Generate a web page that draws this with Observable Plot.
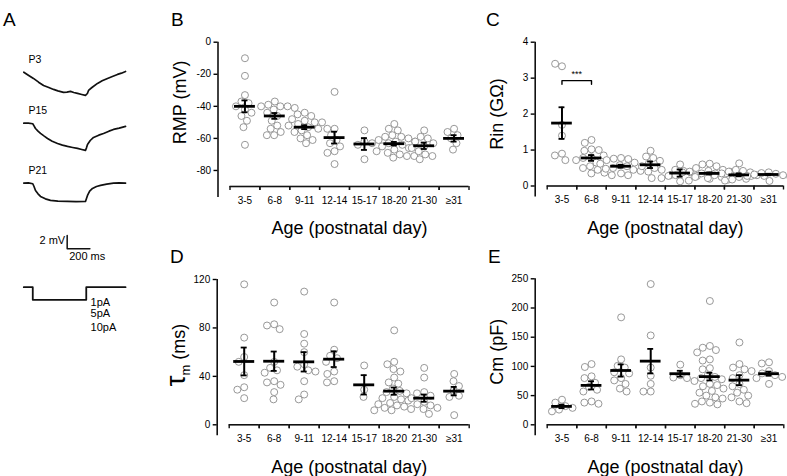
<!DOCTYPE html>
<html><head><meta charset="utf-8">
<script src="https://cdn.jsdelivr.net/npm/d3@7"></script>
<script src="https://cdn.jsdelivr.net/npm/@observablehq/plot@0.6"></script>
<style>
body{margin:0;background:#fff;}
#fig{position:relative;width:787px;height:476px;overflow:hidden;font-family:"Liberation Sans",Arial,Helvetica,sans-serif;}
.letter{position:absolute;font-size:19px;line-height:19px;color:#000;}
</style></head><body><div id="fig"></div>
<script>
// ---------- data ----------
const ageGroups = ["3-5","6-8","9-11","12-14","15-17","18-20","21-30","≥31"];
const xLabel = "Age (postnatal day)";

const rmpValues = [
  [-10,-21,-33,-37,-38,-40,-42,-44,-46,-49,-53,-64],
  [-37,-39,-40,-40,-40,-41,-42,-44,-46,-49,-52,-54,-56,-58,-58],
  [-44,-45,-46,-48,-49,-50,-50,-51,-52,-53,-54,-55,-56,-58,-60,-61,-63],
  [-31,-54,-54,-58,-61,-63,-65,-68,-69,-76],
  [-55,-62,-64,-73],
  [-51,-54,-55,-58,-59,-59,-60,-61,-62,-62,-63,-63,-64,-65,-66,-67,-68,-69,-70,-71,-71,-72],
  [-55,-59,-60,-62,-63,-65,-66,-68,-70,-71,-73],
  [-54,-56,-58,-60,-63,-67]
];
const rmpMean = [-40,-46,-53,-59.5,-63.5,-63.3,-64.6,-60];
const rmpSem = [3.7,1.8,1.2,3.7,3.7,1.1,2.0,2.0];

const rinValues = [
  [3.33,3.40,1.7,1.4,0.9,0.85,0.72],
  [1.28,1.2,1.02,1.0,0.98,0.85,0.8,0.78,0.72,0.65,0.55,0.5,0.45,0.37,0.35],
  [0.78,0.76,0.75,0.72,0.65,0.62,0.58,0.55,0.5,0.48,0.45,0.42,0.35,0.3,0.3],
  [0.98,0.82,0.78,0.7,0.62,0.55,0.5,0.45,0.4,0.22],
  [0.6,0.45,0.42,0.38,0.3,0.28,0.13],
  [0.62,0.6,0.55,0.5,0.45,0.42,0.4,0.4,0.38,0.35,0.35,0.32,0.3,0.3,0.28,0.28,0.25,0.25,0.22,0.2,0.18,0.15],
  [0.63,0.45,0.42,0.4,0.38,0.35,0.3,0.3,0.28,0.25,0.22,0.2,0.18,0.15,0.14],
  [0.38,0.36,0.34,0.32,0.3,0.28,0.26]
];
const rinMean = [1.75,0.78,0.55,0.59,0.36,0.35,0.31,0.32];
const rinSem = [0.44,0.08,0.04,0.09,0.1,0.03,0.04,0.02];

const tauValues = [
  [116,72,56,52,41,31,29,22],
  [101,83,82,79,52,47,45,43,36,35,33,27,21],
  [110,75,67,60,50,48,45,44,36,25,21],
  [101,62,57,55,52,44,42,36,35],
  [49,29,23],
  [78,52,50,46,44,39,35,34,30,28,27,26,23,22,21,20,18,17,16,15,14,13,12,12],
  [47,39,27,26,24,22,19,17,16,14,13,9],
  [42,36,32,28,24,23,8]
];
const tauMean = [52.3,52.5,52,54.2,33,27.8,22,27.8];
const tauSem = [11.5,8,8,6.5,8,3,3,3.5];

const cmValues = [
  [43,38,32,29,26,23],
  [104,99,83,80,72,65,60,57,40,38,36],
  [184,112,101,98,90,88,80,76,70,62,57],
  [241,153,98,84,70,57,57],
  [103,85,81,80],
  [212,135,132,128,124,112,110,97,95,85,82,80,78,75,70,68,66,62,58,55,50,47,45,40,38,36,35],
  [141,104,98,95,92,85,80,70,66,60,55,50,47,40,37],
  [107,105,92,88,85,82,80,70]
];
const cmMean = [31.5,67.5,93,109,87.5,82.5,76.5,87.5];
const cmSem = [3,7,10.5,21,5,6.5,8.5,3.5];

const rinSig = {from: "3-5", to: "6-8", y: 2.93, label: "***"};

// panel A traces (time in ms, voltage in mV relative to baseline)
const p3Time = [0,40,85,130,174,220,262,300,350,380,411,440,473,510,543,560,570,600,649,690,737,780,825,860,896];
const p3Volt = [0,-0.45,-0.94,-1.5,-1.99,-2.3,-2.59,-2.8,-3.04,-3.0,-2.89,-3.05,-3.19,-3.35,-3.49,-3.2,-2.74,-2.3,-1.69,-1.3,-0.94,-0.65,-0.34,-0.15,0.1];
const p15Time = [0,40,79,90,103,125,147,180,209,250,297,340,385,430,473,510,543,552,561,585,614,660,702,750,790,840,896];
const p15Volt = [0,0,-0.09,-0.4,-0.8,-1.2,-1.54,-1.95,-2.29,-2.7,-3.04,-3.3,-3.49,-3.65,-3.79,-3.95,-4.09,-3.7,-3.19,-2.6,-2.14,-1.8,-1.54,-1.2,-0.94,-0.75,-0.49];
const p21Time = [0,40,79,90,103,125,147,190,235,300,385,460,543,552,561,580,605,640,676,730,790,840,896];
const p21Volt = [0,0.05,-0.09,-0.5,-1.09,-1.6,-1.99,-2.35,-2.59,-2.7,-2.74,-2.76,-2.74,-2.3,-1.84,-1.2,-0.79,-0.5,-0.34,-0.15,0,0.05,0];
const traceNames = ["P3","P15","P21"];
const traceBase = [-10.75,-18.4,-27.4];
const stepTime = [0,79,79,550,550,896];
const stepLevel = [0,0,-1,-1,0,0];
const stepLabels = ["1pA","5pA","10pA"];
const scaleBarMs = 200, scaleBarMv = 2;

// ---------- helpers ----------
const FONT = "'Liberation Sans', Arial, Helvetica, sans-serif";
const fig = document.getElementById("fig");

function place(el, left, top) {
  el.style.position = "absolute";
  el.style.left = left + "px";
  el.style.top = top + "px";
  fig.appendChild(el);
  return el;
}

function scatterPanel(cfg) {
  const {values, means, sems, yDomain, yTicks, yLabel, width, height, mt, mr, mb, ml, sig, labelDy = 0} = cfg;
  const [y0, y1] = yDomain;
  const perPx = (y1 - y0) / (height - mt - mb);
  const rows = ageGroups.flatMap((g, i) => values[i].map(v => ({g, v})));
  const stats = ageGroups.map((g, i) => ({g, m: means[i], s: sems[i]}));
  const marks = [
    Plot.ruleY([y0], {stroke: "#111", strokeWidth: 1.6}),
    Plot.ruleX([-0.5, 0.5], {y1: y0, y2: y0 - 4 * perPx, stroke: "#111", strokeWidth: 1.4}),
    Plot.ruleX([ageGroups[0]], {fx: d => d, x: -0.5, dx: -12, y1: y0 - 11 * perPx, y2: y1, stroke: "#111", strokeWidth: 1.6}),
    Plot.axisY({ticks: yTicks, tickSize: 4, tickPadding: 3, dx: -12, tickFormat: d => String(d), label: null, strokeWidth: 1.4, fontSize: 10}),
    Plot.axisFx({anchor: "bottom", tickSize: 0, tickPadding: 10, label: null, fontSize: 10}),
    Plot.dot(rows, Plot.dodgeX({anchor: "middle", padding: 0.3}, {fx: "g", y: "v", r: 3.5, stroke: "#8c8c8c", strokeWidth: 0.9, fill: "white"})),
    Plot.ruleX(stats, {fx: "g", x: 0, y1: d => d.m - d.s, y2: d => d.m + d.s, stroke: "black", strokeWidth: 2}),
    Plot.ruleY(stats, {fx: "g", y: "m", x1: -0.35, x2: 0.35, stroke: "black", strokeWidth: 2.8}),
    Plot.ruleY(stats, {fx: "g", y: d => d.m + d.s, x1: -0.1, x2: 0.1, stroke: "black", strokeWidth: 1.8}),
    Plot.ruleY(stats, {fx: "g", y: d => d.m - d.s, x1: -0.1, x2: 0.1, stroke: "black", strokeWidth: 1.8}),
    Plot.text([yLabel], {facet: "super", frameAnchor: "left", dx: -49.5, dy: labelDy, rotate: -90, textAnchor: "middle", lineAnchor: "middle", fontSize: 18}),
    Plot.text([xLabel], {facet: "super", frameAnchor: "bottom", dy: 42, textAnchor: "middle", lineAnchor: "middle", fontSize: 18})
  ];
  if (sig) {
    const legPx = 4 * perPx * 0.9;
    const i0 = ageGroups.indexOf(sig.from), i1 = ageGroups.indexOf(sig.to);
    const br = [
      {g: sig.from, x: 0, y: sig.y - legPx},
      {g: sig.from, x: 0, y: sig.y},
      {g: sig.from, x: i1 - i0, y: sig.y},
      {g: sig.from, x: i1 - i0, y: sig.y - legPx}
    ];
    marks.push(Plot.line(br, {fx: "g", x: "x", y: "y", stroke: "black", strokeWidth: 1.4}));
    marks.push(Plot.text([sig], {fx: "from", x: (i1 - i0) / 2, y: "y", text: "label", dy: -7, fontSize: 9}));
  }
  return Plot.plot({
    width, height, marginTop: mt, marginRight: mr, marginBottom: mb, marginLeft: ml,
    style: {fontFamily: FONT, fontSize: "10px", background: "transparent", overflow: "visible", color: "black"},
    fx: {domain: ageGroups, padding: 0, round: false, axis: null},
    x: {domain: [-0.5, 0.5], axis: null},
    y: {domain: yDomain, axis: null},
    marks
  });
}

// ---------- panel A ----------
function panelA() {
  const traces = [p3Time, p15Time, p21Time].map((T, k) => T.map((t, j) => ({name: traceNames[k], t, v: traceBase[k] + [p3Volt, p15Volt, p21Volt][k][j]})));
  const step = stepTime.map((t, j) => ({t, v: -43 + stepLevel[j] * 1.9}));
  const sb0 = {t: 382, v: -37.25};
  const bar = [
    {t: sb0.t, v: sb0.v + scaleBarMv},
    {t: sb0.t, v: sb0.v},
    {t: sb0.t + scaleBarMs, v: sb0.v}
  ];
  const lab = traceNames.map((n, k) => ({n, t: 41, v: traceBase[k] + 1.85}));
  const cur = stepLabels.map((s, k) => ({s, t: 588, v: [-45.25, -46.95, -49.0][k]}));
  return Plot.plot({
    width: 150, height: 340, marginTop: 0, marginBottom: 0, marginLeft: 23.3, marginRight: 24.5,
    style: {fontFamily: FONT, background: "transparent", overflow: "visible", color: "black"},
    x: {domain: [0, 900], axis: null},
    y: {domain: [-51, 0], axis: null},
    marks: [
      ...traces.map(tr => Plot.line(tr, {x: "t", y: "v", stroke: "#111", strokeWidth: 1.7})),
      Plot.line(step, {x: "t", y: "v", stroke: "#111", strokeWidth: 1.8}),
      Plot.line(bar, {x: "t", y: "v", stroke: "#111", strokeWidth: 1.5}),
      Plot.text(lab, {x: "t", y: "v", text: "n", textAnchor: "start", fontSize: 10.5}),
      Plot.text([`${scaleBarMv} mV`], {x: sb0.t, y: sb0.v + scaleBarMv * 0.6, textAnchor: "end", dx: -2, fontSize: 11}),
      Plot.text([`${scaleBarMs} ms`], {x: sb0.t, y: sb0.v, textAnchor: "start", dx: 2, dy: 7.5, fontSize: 11}),
      Plot.text(cur, {x: "t", y: "v", text: "s", textAnchor: "start", fontSize: 11})
    ]
  });
}

place(panelA(), 0, 0);
place(scatterPanel({values: rmpValues, means: rmpMean, sems: rmpSem, yDomain: [-90, 0], yTicks: [0,-20,-40,-60,-80], yLabel: "RMP (mV)", width: 325, height: 245, mt: 41.7, mr: 6.5, mb: 59, ml: 79.5, labelDy: -12}), 150, 0);
place(scatterPanel({values: rinValues, means: rinMean, sems: rinSem, yDomain: [0, 4], yTicks: [0,1,2,3,4], yLabel: "Rin (GΩ)", width: 312, height: 245, mt: 41.7, mr: 4, mb: 59.5, ml: 71.7, sig: rinSig}), 475, 0);
const svgD = place(scatterPanel({values: tauValues, means: tauMean, sems: tauSem, yDomain: [0, 120], yTicks: [0,40,80,120], yLabel: "τm (ms)", width: 325, height: 236, mt: 39, mr: 6.3, mb: 51.7, ml: 78.7, labelDy: 3}), 150, 240);
place(scatterPanel({values: cmValues, means: cmMean, sems: cmSem, yDomain: [0, 250], yTicks: [0,50,100,150,200,250], yLabel: "Cm (pF)", width: 312, height: 236, mt: 38.3, mr: 3.7, mb: 51.7, ml: 71.7}), 475, 240);

d3.select(svgD).selectAll("text").filter(function(){ return this.textContent === "τm (ms)"; }).each(function(){
  const t = d3.select(this); t.text("");
  t.append("tspan").attr("font-size", 28).text("τ");
  t.append("tspan").attr("font-size", 13).attr("dy", 5).text("m");
  t.append("tspan").attr("font-size", 18).attr("dy", -5).text(" (ms)");
});

[["A",3,10],["B",171,10],["C",486,10],["D",170,247],["E",488,247]].forEach(([s,x,y]) => {
  const d = document.createElement("div"); d.className = "letter"; d.textContent = s;
  d.style.left = x + "px"; d.style.top = y + "px"; fig.appendChild(d);
});
</script></body></html>
